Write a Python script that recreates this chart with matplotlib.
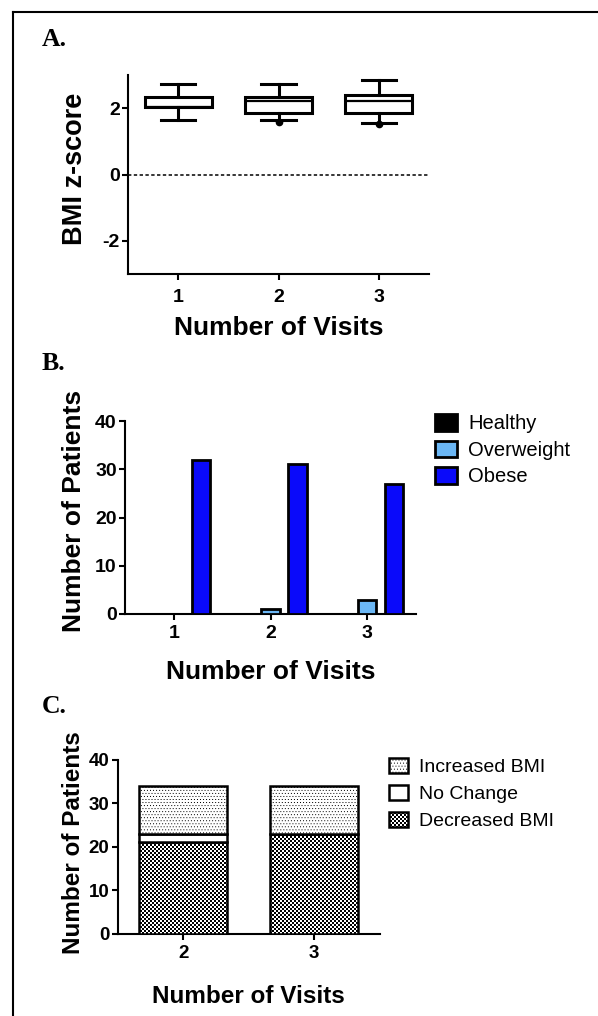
import numpy as np
import matplotlib
matplotlib.use("Agg")
import matplotlib.pyplot as plt
import matplotlib.hatch as mhatch
from matplotlib.path import Path
from matplotlib.lines import Line2D

# ---------------- data ----------------
# Panel A: BMI z-score box summaries per number of visits
visits_a = [1, 2, 3]
whisker_low = [1.64, 1.64, 1.56]
quart_1 = [2.03, 1.84, 1.86]
medians = [2.04, 2.21, 2.21]
quart_3 = [2.33, 2.33, 2.39]
whisker_high = [2.73, 2.73, 2.86]
outliers = [[], [1.58], [1.51]]
yticks_a = [-2, 0, 2]

# Panel B: weight category counts
visits_b = [1, 2, 3]
healthy = [0, 0, 0]
overweight = [0, 1, 3]
obese = [32, 31, 27]
cats_b = ["Healthy", "Overweight", "Obese"]
yticks_b = [0, 10, 20, 30, 40]

# Panel C: BMI change counts
visits_c = [2, 3]
increased = [11, 11]
no_change = [2, 0]
decreased = [21, 23]
cats_c = ["Increased BMI", "No Change", "Decreased BMI"]
yticks_c = [0, 10, 20, 30, 40]

# ---------------- custom hatch textures ----------------
class CheckerHatch(mhatch.HatchPatternBase):
    def __init__(self, hatch, density):
        self.n = 50
        self.num_vertices = (self.n * self.n // 2) * 5 if 'o' in hatch else 0

    def set_vertices_and_codes(self, vertices, codes):
        n = self.n
        s = 1.0 / n
        k = 0
        for i in range(n):
            for j in range(n):
                if (i + j) % 2 == 0:
                    x0, y0 = i * s, j * s
                    vertices[k:k + 5] = [(x0, y0), (x0 + s, y0), (x0 + s, y0 + s),
                                         (x0, y0 + s), (x0, y0)]
                    codes[k:k + 5] = [Path.MOVETO, Path.LINETO, Path.LINETO,
                                      Path.LINETO, Path.CLOSEPOLY]
                    k += 5


class StippleHatch(mhatch.HatchPatternBase):
    def __init__(self, hatch, density):
        self.n = 33
        self.num_vertices = (self.n * self.n) * 5 if '.' in hatch else 0

    def set_vertices_and_codes(self, vertices, codes):
        n = self.n
        s = 0.01
        k = 0
        for i in range(n):
            for j in range(n):
                x0 = i / n + (0.5 / n if j % 2 else 0.0)
                x0 = x0 % 1.0
                y0 = j / n
                vertices[k:k + 5] = [(x0, y0), (x0 + s, y0), (x0 + s, y0 + s),
                                     (x0, y0 + s), (x0, y0)]
                codes[k:k + 5] = [Path.MOVETO, Path.LINETO, Path.LINETO,
                                  Path.LINETO, Path.CLOSEPOLY]
                k += 5


mhatch._hatch_types = [CheckerHatch, StippleHatch]

# ---------------- style ----------------
plt.rcParams["font.family"] = ["Liberation Sans", "DejaVu Sans"]
plt.rcParams["axes.unicode_minus"] = False
plt.rcParams["hatch.linewidth"] = 0.0
plt.rcParams["axes.linewidth"] = 1.5

W, H = 598, 1016
DPI = 100
fig = plt.figure(figsize=(W / DPI, H / DPI), dpi=DPI)

def rect(left, top, right, bottom):
    return [left / W, 1 - bottom / H, (right - left) / W, (bottom - top) / H]

# outer frame (left & top visible)
fig.add_artist(Line2D([12.7 / W, 12.7 / W], [0, 1 - 12 / H], transform=fig.transFigure,
                      color="black", lw=1.5))
fig.add_artist(Line2D([12.7 / W, 1.0], [1 - 12 / H, 1 - 12 / H], transform=fig.transFigure,
                      color="black", lw=1.5))

serif = ["Liberation Serif", "DejaVu Serif"]
fig.text(42 / W, 1 - 46 / H, "A.", fontfamily=serif, fontweight="bold", fontsize=18.5, va="baseline")
fig.text(42 / W, 1 - 370 / H, "B.", fontfamily=serif, fontweight="bold", fontsize=18.5, va="baseline")
fig.text(42 / W, 1 - 713 / H, "C.", fontfamily=serif, fontweight="bold", fontsize=18.5, va="baseline")

def style_axes(ax, tick_fs):
    for s in ("top", "right"):
        ax.spines[s].set_visible(False)
    ax.tick_params(axis="both", direction="out", width=1.5, labelsize=tick_fs)
    ax.tick_params(axis="y", length=4.5, pad=1.5)
    ax.tick_params(axis="x", length=4, pad=4)
    for lab in ax.get_xticklabels() + ax.get_yticklabels():
        lab.set_fontweight("bold")

# ---------------- Panel A ----------------
axA = fig.add_axes(rect(128, 75, 429, 274))
stats = []
for i in range(len(visits_a)):
    stats.append(dict(whislo=whisker_low[i], q1=quart_1[i], med=medians[i], q3=quart_3[i],
                      whishi=whisker_high[i], fliers=outliers[i]))
lw_box = 2.2
axA.bxp(stats, positions=visits_a, widths=0.67, capwidths=0.34, patch_artist=True,
        showfliers=True,
        boxprops=dict(facecolor="white", edgecolor="black", linewidth=lw_box),
        medianprops=dict(color="black", linewidth=lw_box - 0.6),
        whiskerprops=dict(color="black", linewidth=lw_box),
        capprops=dict(color="black", linewidth=lw_box),
        flierprops=dict(marker="o", markerfacecolor="black", markeredgecolor="black",
                        markersize=4.5))
axA.axhline(0, color="black", lw=1.1, linestyle=(0, (2.2, 1.6)), zorder=0)
axA.set_xlim(0.5, 3.5)
axA.set_ylim(-3, 3)
axA.set_yticks(yticks_a)
axA.set_xticks(visits_a)
axA.set_xticklabels([str(v) for v in visits_a])
style_axes(axA, 14)
axA.tick_params(axis="x", pad=7)
axA.set_ylabel("BMI z-score", fontsize=19.5, fontweight="bold")
axA.yaxis.set_label_coords((87.5 - 128) / 301, 0.53)
axA.set_xlabel("Number of Visits", fontsize=19, fontweight="bold")
axA.xaxis.set_label_coords(0.5, (274 - 316) / 199)

# ---------------- Panel B ----------------
axB = fig.add_axes(rect(125, 421, 416, 614))
xb = np.array(visits_b, dtype=float)
off = 0.28
bw = 0.19
colors_b = ["black", "#6BB7F5", "#0A0AFA"]
for k, (vals, col, lab) in enumerate(zip([healthy, overweight, obese], colors_b, cats_b)):
    axB.bar(xb + (k - 1) * off, vals, width=bw, color=col, edgecolor="black",
            linewidth=2.0, label=lab, zorder=3)
axB.set_xlim(0.49, 3.51)
axB.set_ylim(0, 40)
axB.set_yticks(yticks_b)
axB.set_xticks(visits_b)
axB.set_xticklabels([str(v) for v in visits_b])
style_axes(axB, 14)
axB.set_ylabel("Number of Patients", fontsize=19, fontweight="bold")
axB.yaxis.set_label_coords((86 - 125) / 291, 0.534)
axB.set_xlabel("Number of Visits", fontsize=19, fontweight="bold")
axB.xaxis.set_label_coords(0.5, (614 - 660) / 193)
axB.legend(loc="upper left", bbox_to_anchor=(434.7 / W, 1 - 414 / H),
           bbox_transform=fig.transFigure, frameon=False, fontsize=14.5,
           handlelength=1.1, handleheight=0.9, handletextpad=0.55,
           labelspacing=0.36, borderpad=0, borderaxespad=0)

# ---------------- Panel C ----------------
axC = fig.add_axes(rect(117.7, 759.6, 379.5, 934))
xc = np.array(visits_c, dtype=float)
wc = 0.67
dec = np.array(decreased, dtype=float)
noc = np.array(no_change, dtype=float)
inc = np.array(increased, dtype=float)
b_dec = axC.bar(xc, dec, width=wc, color="white", edgecolor="black", hatch="o",
                linewidth=1.8, label=cats_c[2], zorder=3)
b_noc = axC.bar(xc, noc, width=wc, bottom=dec, color="white", edgecolor="black",
                linewidth=1.8, label=cats_c[1], zorder=3)
b_inc = axC.bar(xc, inc, width=wc, bottom=dec + noc, color="white", edgecolor="black",
                hatch=".", linewidth=1.8, label=cats_c[0], zorder=3)
axC.set_xlim(1.5, 3.5)
axC.set_ylim(0, 40)
axC.set_yticks(yticks_c)
axC.set_xticks(visits_c)
axC.set_xticklabels([str(v) for v in visits_c])
style_axes(axC, 13.5)
axC.set_ylabel("Number of Patients", fontsize=17.5, fontweight="bold")
axC.yaxis.set_label_coords((85 - 117.7) / 261.8, 0.522)
axC.set_xlabel("Number of Visits", fontsize=17.5, fontweight="bold")
axC.xaxis.set_label_coords(0.5, (934 - 985) / 174.4)
axC.legend(handles=[b_inc, b_noc, b_dec], labels=cats_c, loc="upper left",
           bbox_to_anchor=(389 / W, 1 - 758 / H),
           bbox_transform=fig.transFigure, frameon=False, fontsize=14,
           handlelength=1.0, handleheight=0.8, handletextpad=0.55,
           labelspacing=0.45, borderpad=0, borderaxespad=0)

fig.savefig("out.png", dpi=DPI)
